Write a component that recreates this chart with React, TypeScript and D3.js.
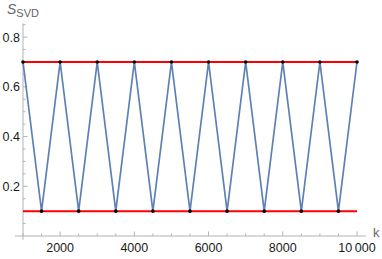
import React from 'react';
import * as d3 from 'd3';

const kValues = [1000, 1500, 2000, 2500, 3000, 3500, 4000, 4500, 5000, 5500, 6000, 6500, 7000, 7500, 8000, 8500, 9000, 9500, 10000];
const sValues = [0.7, 0.1, 0.7, 0.1, 0.7, 0.1, 0.7, 0.1, 0.7, 0.1, 0.7, 0.1, 0.7, 0.1, 0.7, 0.1, 0.7, 0.1, 0.7];

const upperBound = 0.7;
const lowerBound = 0.1;

const xMajorTicks = [2000, 4000, 6000, 8000, 10000];
const xTickLabels = ['2000', '4000', '6000', '8000', '10\u2009000'];
const xMinorTicks = [1000, 1500, 2500, 3000, 3500, 4500, 5000, 5500, 6500, 7000, 7500, 8500, 9000, 9500];
const yMajorTicks = [0.2, 0.4, 0.6, 0.8];
const yTickLabels = ['0.2', '0.4', '0.6', '0.8'];
const yMinorTicks = [0.05, 0.1, 0.15, 0.25, 0.3, 0.35, 0.45, 0.5, 0.55, 0.65, 0.7, 0.75, 0.85];

const W = 382;
const H = 259;

export default function App() {
    const x = d3.scaleLinear().domain([1000, 10000]).range([23, 357]);
    const y = d3.scaleLinear().domain([0, 0.7]).range([236, 62]);

    const line = d3.line<number>()
        .x((_, i) => x(kValues[i]))
        .y(d => y(d));

    const axisColor = '#b3b3b3';
    const font = '"Liberation Sans", Arial, sans-serif';

    return (
        <svg width={W} height={H} style={{ position: 'absolute', left: 0, top: 0, background: '#fff' }}>
            {/* axes */}
            <line x1={x(780)} x2={x(10240)} y1={y(0)} y2={y(0)} stroke={axisColor} strokeWidth={1} />
            <line x1={x(1000)} x2={x(1000)} y1={y(-0.015)} y2={y(0.855)} stroke={axisColor} strokeWidth={1} />

            {xMinorTicks.map(t => (
                <line key={'xm' + t} x1={x(t)} x2={x(t)} y1={y(0)} y2={y(0) - 2.5} stroke={axisColor} />
            ))}
            {xMajorTicks.map((t, i) => (
                <g key={'xM' + t}>
                    <line x1={x(t)} x2={x(t)} y1={y(0)} y2={y(0) - 4.5} stroke={axisColor} />
                    <text x={x(t)} y={y(0) + 16} textAnchor="middle" fontFamily={font} fontSize={12.5} fill="#1a1a1a">
                        {xTickLabels[i]}
                    </text>
                </g>
            ))}

            {yMinorTicks.map(t => (
                <line key={'ym' + t} x1={x(1000)} x2={x(1000) + 2.5} y1={y(t)} y2={y(t)} stroke={axisColor} />
            ))}
            {yMajorTicks.map((t, i) => (
                <g key={'yM' + t}>
                    <line x1={x(1000)} x2={x(1000) + 4.5} y1={y(t)} y2={y(t)} stroke={axisColor} />
                    <text x={x(1000) - 3} y={y(t) + 4.5} textAnchor="end" fontFamily={font} fontSize={12.5} fill="#1a1a1a">
                        {yTickLabels[i]}
                    </text>
                </g>
            ))}

            {/* axis labels */}
            <text x={7} y={14} fontFamily={font} fontSize={14} fill="#666">
                <tspan fontStyle="italic">S</tspan>
                <tspan fontSize={11} dy={3}>SVD</tspan>
            </text>
            <text x={x(10240) + 7} y={y(0) + 1} fontFamily={font} fontSize={13} fill="#666">k</text>

            {/* data */}
            <path d={line(sValues) || ''} fill="none" stroke="#5e81b5" strokeWidth={1.7} />
            <line x1={x(kValues[0])} x2={x(kValues[kValues.length - 1])} y1={y(upperBound)} y2={y(upperBound)} stroke="#ff0000" strokeWidth={2} />
            <line x1={x(kValues[0])} x2={x(kValues[kValues.length - 1])} y1={y(lowerBound)} y2={y(lowerBound)} stroke="#ff0000" strokeWidth={2} />
            {sValues.map((s, i) => (
                <circle key={'p' + i} cx={x(kValues[i])} cy={y(s)} r={1.8} fill="#000" />
            ))}
        </svg>
    );
}
